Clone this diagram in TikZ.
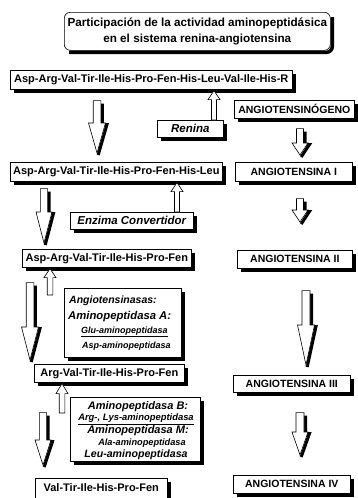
\documentclass[tikz,border=0pt]{standalone}
\usepackage{fontspec}
\setmainfont{Liberation Sans}
\usetikzlibrary{calc}
\tikzset{
  boxbase/.style={draw, line width=0.6pt, fill=white, inner sep=0pt, anchor=north west, align=center},
  pep/.style={boxbase, font=\bfseries\fontsize{11}{13}\selectfont},
  angbox/.style={boxbase, font=\bfseries\fontsize{10.5}{13}\selectfont},
  enzbox/.style={boxbase, font=\bfseries\itshape\fontsize{11.5}{13}\selectfont},
  lbl/.style={inner sep=0pt, font=\bfseries\itshape},
  arrbody/.style={fill=white, draw=black, line width=0.6pt, line join=miter},
  shadstroke/.style={draw=black, line width=3.5pt, line join=miter},
}
% down block arrow: #1 x, #2 from, #3 to, #4 start gap, #5 end gap, #6 shaft half, #7 head half, #8 head length
\newcommand\mydnarr[8]{%
  \path[shadstroke, line width=3pt] let \p1=(#2), \p2=(#3) in
    ({#1pt+#6pt+1.5pt},{\y1-(#4pt)-3pt}) -- ({#1pt+#6pt+1.5pt},{\y2+#5pt+#8pt-1.5pt}) --
    ({#1pt+#7pt+1.5pt},{\y2+#5pt+#8pt-1.5pt}) -- ({#1pt+1.2pt},{\y2+#5pt-2pt});
  \path[arrbody] let \p1=(#2), \p2=(#3) in
    ({#1pt-#6pt},{\y1-(#4pt)}) -- ({#1pt+#6pt},{\y1-(#4pt)}) --
    ({#1pt+#6pt},{\y2+#5pt+#8pt}) -- ({#1pt+#7pt},{\y2+#5pt+#8pt}) --
    (#1pt,{\y2+#5pt}) -- ({#1pt-#7pt},{\y2+#5pt+#8pt}) --
    ({#1pt-#6pt},{\y2+#5pt+#8pt}) -- cycle;}
% up block arrow: #1 x, #2 from (lower), #3 to (upper), #4 start offset, #5 end gap, #6 shaft half, #7 head half, #8 head length
\newcommand\myuparr[8]{%
  \path[arrbody] let \p1=(#2), \p2=(#3) in
    ({#1pt-#6pt},{\y1+(#4pt)}) -- ({#1pt+#6pt},{\y1+(#4pt)}) --
    ({#1pt+#6pt},{\y2-(#5pt)-(#8pt)}) -- ({#1pt+#7pt},{\y2-(#5pt)-(#8pt)}) --
    (#1pt,{\y2-(#5pt)}) -- ({#1pt-#7pt},{\y2-(#5pt)-(#8pt)}) --
    ({#1pt-#6pt},{\y2-(#5pt)-(#8pt)}) -- cycle;}
% shadow strip right of and below a box
\newcommand\boxshadow[1]{%
  \path[shadstroke] ($(#1.north east)+(1.75,3.5)$) -- ($(#1.south east)+(1.75,1.75)$) -- ($(#1.south west)+(3.5,1.75)$);}
\begin{document}
\begin{tikzpicture}[x=1pt,y=-1pt]
\useasboundingbox (0,0) rectangle (357,498);
\fill[white] (0,0) rectangle (357,498);

% title
\node[boxbase, rounded corners=6pt, minimum width=266pt, minimum height=38pt,
      font=\bfseries\fontsize{11.7}{16}\selectfont] (title) at (64,12)
  {Participación de la actividad aminopeptidásica\\en el sistema renina-angiotensina};
\path[shadstroke, rounded corners=6pt] ($(title.north east)+(1.75,5)$) -- ($(title.south east)+(1.75,1.75)$) -- ($(title.south west)+(5,1.75)$);

% left column (peptides)
\node[pep, minimum width=282pt, minimum height=19pt] (b1) at (10,70) {Asp-Arg-Val-Tir-Ile-His-Pro-Fen-His-Leu-Val-Ile-His-R};
\node[pep, minimum width=212pt, minimum height=19pt] (b2) at (10,162) {Asp-Arg-Val-Tir-Ile-His-Pro-Fen-His-Leu};
\node[pep, minimum width=169pt, minimum height=18pt] (b3) at (22,249) {Asp-Arg-Val-Tir-Ile-His-Pro-Fen};
\node[pep, minimum width=150pt, minimum height=18pt] (b4) at (34,364) {Arg-Val-Tir-Ile-His-Pro-Fen};
\node[pep, minimum width=132pt, minimum height=24pt, text depth=5pt] (b5) at (35,478) {Val-Tir-Ile-His-Pro-Fen};

% enzymes
\node[enzbox, minimum width=66pt, minimum height=17pt] (ren) at (157,120) {Renina};
\node[enzbox, minimum width=123pt, minimum height=17pt] (enz) at (70,212) {Enzima Convertidor};

\node[boxbase, minimum width=117pt, minimum height=69pt] (angb) at (64,288) {};
\node[lbl, anchor=west, font=\bfseries\itshape\fontsize{10.5}{12}\selectfont] (t1) at (69,301) {Angiotensinasas:};
\node[lbl, anchor=west, font=\bfseries\itshape\fontsize{11.3}{12}\selectfont] (t2) at (68,317) {Aminopeptidasa A:};
\node[lbl, anchor=west, font=\bfseries\itshape\fontsize{9}{11}\selectfont] (t3) at (81,332) {\underline{Glu-aminopeptidasa}};
\node[lbl, anchor=west, font=\bfseries\itshape\fontsize{9}{11}\selectfont] (t4) at (82,346) {Asp-aminopeptidasa};

\node[boxbase, minimum width=130pt, minimum height=64pt] (amb) at (70,397) {};
\node[lbl, font=\bfseries\itshape\fontsize{11}{12}\selectfont] (m1) at (138,407) {Aminopeptidasa B:};
\node[lbl, font=\bfseries\itshape\fontsize{9.4}{11}\selectfont] (m2) at (136,419) {\underline{Arg-, Lys-aminopeptidasa}};
\node[lbl, font=\bfseries\itshape\fontsize{11}{12}\selectfont] (m3) at (138,431) {Aminopeptidasa M:};
\node[lbl, font=\bfseries\itshape\fontsize{9.2}{11}\selectfont] (m4) at (142,443) {Ala-aminopeptidasa};
\node[lbl, font=\bfseries\itshape\fontsize{10.6}{12}\selectfont] (m5) at (136,455) {Leu-aminopeptidasa};

% right column
\node[angbox, minimum width=120pt, minimum height=18pt] (ango) at (234,100) {ANGIOTENSINÓGENO};
\node[angbox, minimum width=117pt, minimum height=19pt] (a1) at (235,162) {ANGIOTENSINA I};
\node[angbox, minimum width=115pt, minimum height=18pt] (a2) at (237,250) {ANGIOTENSINA II};
\node[angbox, minimum width=117pt, minimum height=17pt] (a3) at (233,375) {ANGIOTENSINA III};
\node[angbox, minimum width=117pt, minimum height=18pt] (a4) at (233,475) {ANGIOTENSINA IV};

% box shadows
\boxshadow{b1}\boxshadow{b2}\boxshadow{b3}\boxshadow{b4}\boxshadow{b5}
\boxshadow{ren}\boxshadow{enz}\boxshadow{angb}\boxshadow{amb}
\boxshadow{ango}\boxshadow{a1}\boxshadow{a2}\boxshadow{a3}\boxshadow{a4}

% down arrows, left
\mydnarr{97}{b1.south}{b2.north}{11}{9}{3.8}{8.5}{30}
\mydnarr{44}{b2.south}{b3.north}{7}{6}{3.6}{8}{31}
\mydnarr{30}{b3.south}{b4.north}{15}{4}{3.8}{8.5}{33}
\mydnarr{43}{b4.south}{b5.north}{30}{13}{3.6}{8}{25}
% down arrows, right
\mydnarr{300}{ango.south}{a1.north}{10}{7}{3.5}{8}{12}
\mydnarr{300}{a1.south}{a2.north}{17}{28}{3.5}{8}{12}
\mydnarr{306}{a2.south}{a3.north}{22}{10}{4}{8.5}{40}
\mydnarr{300}{a3.south}{a4.north}{20}{20}{4}{8}{23}
% up arrows
\myuparr{214}{ren.north}{b1.south}{0}{1}{2.5}{6}{9}
\myuparr{177}{enz.north}{b2.south}{0}{1}{2.5}{6}{9}
\myuparr{50}{angb.north}{b3.south}{-7}{1}{2.8}{6}{9}
\myuparr{62}{amb.north}{b4.south}{-16}{1}{2.8}{6}{10}
\end{tikzpicture}
\end{document}
